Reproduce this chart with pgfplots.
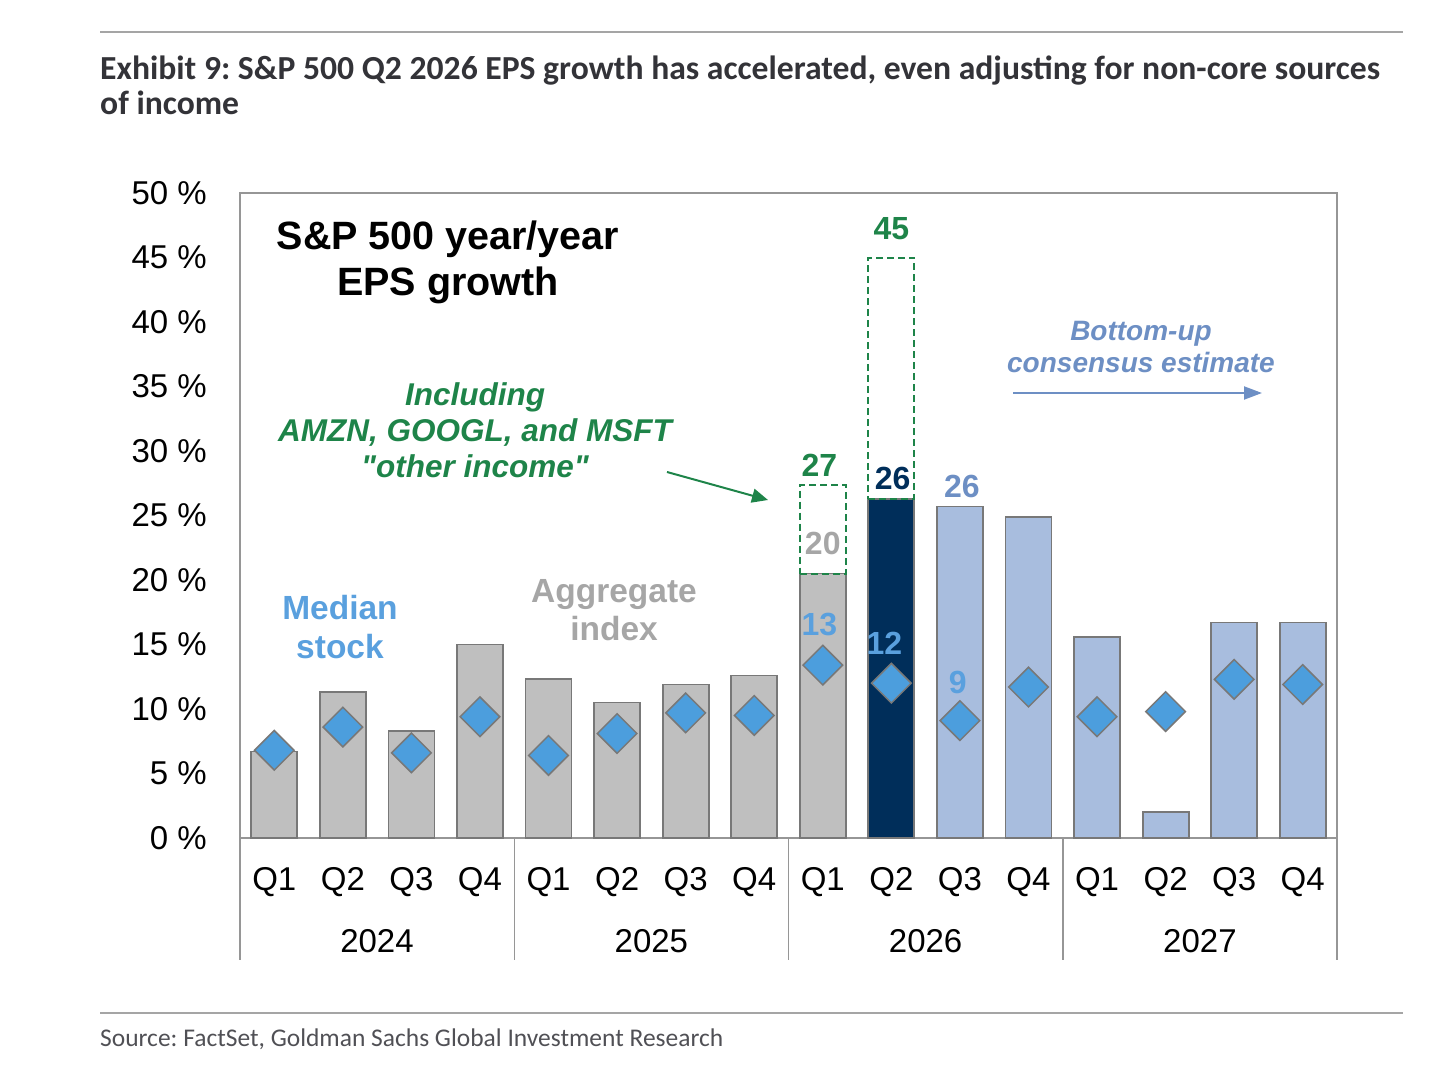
\documentclass[border=0pt]{standalone}
\usepackage{pgfplots}
\pgfplotsset{compat=1.18}
\usepackage{fontspec}
\setmainfont{Liberation Sans}
\newfontfamily\titlefont{Carlito}
\usetikzlibrary{arrows.meta}
\definecolor{bargrey}{RGB}{191,191,191}
\definecolor{edgegrey}{RGB}{120,120,120}
\definecolor{navy}{RGB}{0,46,90}
\definecolor{lightblue}{RGB}{168,189,222}
\definecolor{diam}{RGB}{76,158,221}
\definecolor{lbl}{RGB}{90,160,222}
\definecolor{gsgreen}{RGB}{30,132,73}
\definecolor{consblue}{RGB}{109,143,196}
\definecolor{aggrey}{RGB}{166,166,166}
\definecolor{framegrey}{RGB}{150,150,150}
\definecolor{titlegrey}{RGB}{51,51,56}
\definecolor{srcgrey}{RGB}{80,80,85}
\definecolor{rulegrey}{RGB}{165,165,165}
\newsavebox\tlineA
\newsavebox\tlineB
\frenchspacing
\begin{document}
\sbox\tlineA{\color{titlegrey}\titlefont\bfseries Exhibit 9: S\&P 500 Q2 2026 EPS growth has accelerated, even adjusting for non-core sources}%
\sbox\tlineB{\color{titlegrey}\titlefont\bfseries of income}%
\pgfmathsetmacro\ts{1280pt/\the\wd\tlineA}%
\begin{tikzpicture}
\useasboundingbox (0,0) rectangle (1443pt,-1070pt);
\draw[rulegrey, line width=1.5pt] (100pt,-32pt) -- (1403pt,-32pt);
\draw[rulegrey, line width=1.2pt] (100pt,-1013pt) -- (1403pt,-1013pt);
\node[anchor=base west, inner sep=0pt] at (100pt,-80pt) {\scalebox{\ts}{\usebox\tlineA}};
\node[anchor=base west, inner sep=0pt] at (100pt,-115pt) {\scalebox{\ts}{\usebox\tlineB}};
\node[anchor=base west, inner sep=0pt, text=srcgrey] at (100pt,-1046pt) {\resizebox{623pt}{!}{\titlefont Source: FactSet, Goldman Sachs Global Investment Research}};

\begin{axis}[
  at={(240pt,-838pt)}, anchor=south west,
  scale only axis, width=1097pt, height=645pt,
  xmin=-0.5, xmax=15.5, ymin=0, ymax=50,
  axis line style={framegrey, line width=1.5pt},
  xtick={0,...,15},
  xticklabels={Q1,Q2,Q3,Q4,Q1,Q2,Q3,Q4,Q1,Q2,Q3,Q4,Q1,Q2,Q3,Q4},
  ytick={0,5,10,15,20,25,30,35,40,45,50},
  yticklabels={0 \%,5 \%,10 \%,15 \%,20 \%,25 \%,30 \%,35 \%,40 \%,45 \%,50 \%},
  major tick length=0pt,
  tick style={draw=none},
  xticklabel style={anchor=base, inner sep=0pt, yshift=-52pt, font=\fontsize{33}{36}\selectfont},
  yticklabel style={anchor=east, inner sep=0pt, xshift=-33pt, font=\fontsize{33}{36}\selectfont},
  clip=false,
]
\addplot[ybar, bar width=46pt, bar shift=0pt, fill=bargrey, draw=edgegrey, line width=1.8pt]
  coordinates {(0,6.7)(1,11.3)(2,8.3)(3,15.0)(4,12.3)(5,10.5)(6,11.9)(7,12.6)(8,20.5)};
\addplot[ybar, bar width=46pt, bar shift=0pt, fill=navy, draw=edgegrey, line width=1.8pt]
  coordinates {(9,26.3)};
\addplot[ybar, bar width=46pt, bar shift=0pt, fill=lightblue, draw=edgegrey, line width=1.8pt]
  coordinates {(10,25.7)(11,24.9)(12,15.6)(13,2.0)(14,16.7)(15,16.7)};
% dashed "other income" boxes
\addplot[gsgreen, line width=2pt, dash pattern=on 7pt off 4pt]
  coordinates {(7.6645,20.5)(8.3355,20.5)(8.3355,27.4)(7.6645,27.4)(7.6645,20.5)};
\addplot[gsgreen, line width=2pt, dash pattern=on 7pt off 4pt]
  coordinates {(8.6645,26.3)(9.3355,26.3)(9.3355,45.0)(8.6645,45.0)(8.6645,26.3)};
% median stock diamonds
\addplot[only marks, mark=square*, mark size=14pt, mark options={rotate=45, fill=diam, draw=edgegrey, line width=1.5pt}]
  coordinates {(0,6.8)(1,8.6)(2,6.6)(3,9.4)(4,6.4)(5,8.1)(6,9.7)(7,9.5)(8,13.4)(9,12.0)(10,9.1)(11,11.7)(12,9.4)(13,9.8)(14,12.3)(15,11.9)};
% value labels
\node[anchor=base, text=gsgreen, font=\fontsize{32}{36}\selectfont\bfseries] at (axis cs:7.95,28.06) {27};
\node[anchor=base, text=gsgreen, font=\fontsize{32}{36}\selectfont\bfseries] at (axis cs:9.0,46.36) {45};
\node[anchor=base, text=aggrey, font=\fontsize{32}{36}\selectfont\bfseries] at (axis cs:8.0,22.0) {20};
\node[anchor=base, text=navy, font=\fontsize{32}{36}\selectfont\bfseries] at (axis cs:9.02,26.98) {26};
\node[anchor=base, text=consblue, font=\fontsize{32}{36}\selectfont\bfseries] at (axis cs:10.03,26.36) {26};
\node[anchor=base, text=lbl, font=\fontsize{32}{36}\selectfont\bfseries] at (axis cs:7.95,15.66) {13};
\node[anchor=base, text=lbl, font=\fontsize{32}{36}\selectfont\bfseries] at (axis cs:8.9,14.26) {12};
\node[anchor=base, text=lbl, font=\fontsize{32}{36}\selectfont\bfseries] at (axis cs:9.97,11.24) {9};
\end{axis}

% group separators and year labels
\foreach \x in {240,514.25,788.5,1062.75,1337}{
  \draw[framegrey, line width=1.5pt] (\x pt,-838pt) -- (\x pt,-960pt);
}
\foreach \x/\yr in {377/2024,651.4/2025,925.6/2026,1199.9/2027}{
  \node[anchor=base, inner sep=0pt, font=\fontsize{33}{36}\selectfont] at (\x pt,-952pt) {\yr};
}

% annotations
\node[anchor=base, inner sep=0pt, font=\fontsize{39.5}{46}\selectfont\bfseries] at (448pt,-249pt) {S\&P 500 year/year};
\node[anchor=base, inner sep=0pt, font=\fontsize{39.5}{46}\selectfont\bfseries] at (448pt,-295pt) {EPS growth};

\node[anchor=base, inner sep=0pt, text=gsgreen, font=\fontsize{31.5}{36}\selectfont\bfseries\itshape] at (475pt,-405pt) {Including};
\node[anchor=base, inner sep=0pt, text=gsgreen, font=\fontsize{31.5}{36}\selectfont\bfseries\itshape] at (475pt,-441pt) {AMZN, GOOGL, and MSFT};
\node[anchor=base, inner sep=0pt, text=gsgreen, font=\fontsize{31.5}{36}\selectfont\bfseries\itshape\addfontfeatures{Ligatures=TeXOff}] at (475pt,-477pt) {"other income"};
\draw[gsgreen, line width=2pt, -{Triangle[length=16pt, width=14pt]}] (667pt,-472pt) -- (768pt,-500pt);

\node[anchor=base, inner sep=0pt, text=lbl, font=\fontsize{33.5}{38}\selectfont\bfseries] at (340pt,-619pt) {Median};
\node[anchor=base, inner sep=0pt, text=lbl, font=\fontsize{33.5}{38}\selectfont\bfseries] at (340pt,-658pt) {stock};

\node[anchor=base, inner sep=0pt, text=aggrey, font=\fontsize{33.5}{38}\selectfont\bfseries] at (614pt,-602pt) {Aggregate};
\node[anchor=base, inner sep=0pt, text=aggrey, font=\fontsize{33.5}{38}\selectfont\bfseries] at (614pt,-640pt) {index};

\node[anchor=base, inner sep=0pt, text=consblue, font=\fontsize{28}{32}\selectfont\bfseries\itshape] at (1141pt,-340pt) {Bottom-up};
\node[anchor=base, inner sep=0pt, text=consblue, font=\fontsize{28}{32}\selectfont\bfseries\itshape] at (1141pt,-372pt) {consensus estimate};
\draw[consblue, line width=2pt, -{Triangle[length=18pt, width=13pt]}] (1013pt,-393pt) -- (1262pt,-393pt);
\end{tikzpicture}
\end{document}
